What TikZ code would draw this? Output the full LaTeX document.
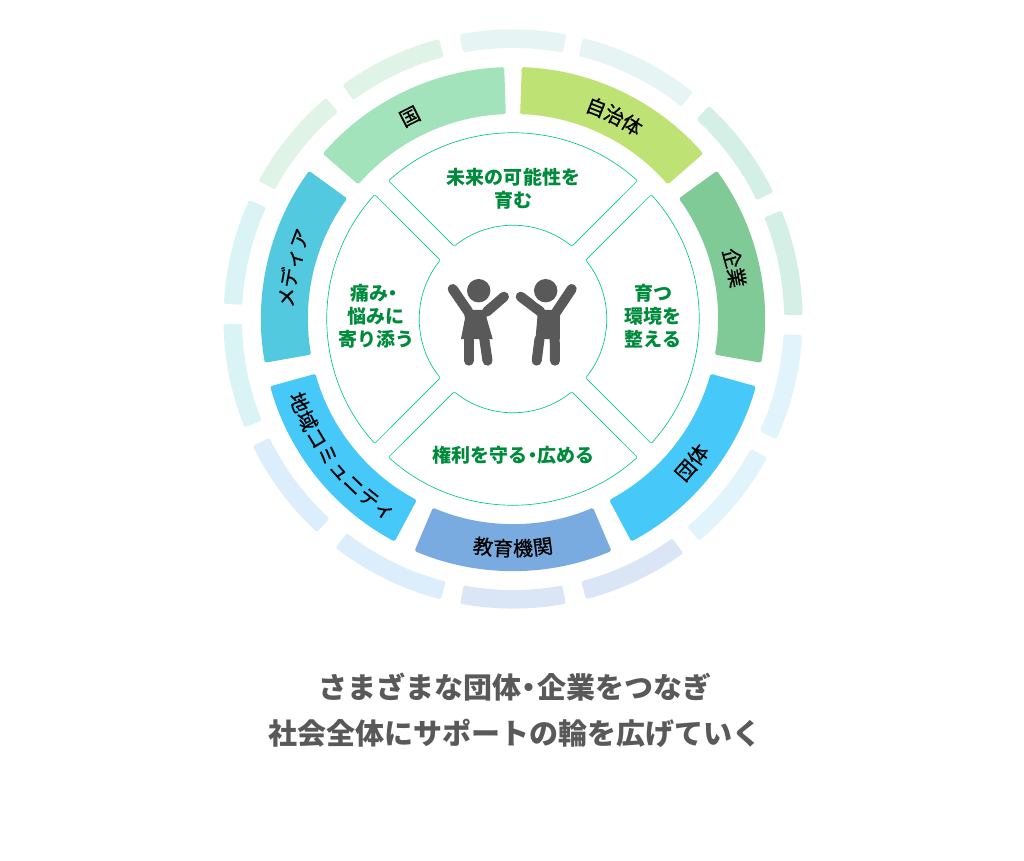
\documentclass[tikz,border=0pt]{standalone}
\usepackage{fontspec}
\usetikzlibrary{decorations.text}
\newfontfamily\jpfont{Noto Sans CJK JP}
\newfontfamily\ringfont[FakeBold=0.7]{Noto Sans CJK JP}
\newcommand{\dotkana}{\hspace{-0.22em}・\hspace{-0.22em}}
\definecolor{cellgreen}{HTML}{00C88A}
\definecolor{textgreen}{HTML}{008A3C}
\definecolor{icongray}{HTML}{595959}
\tikzset{
  cell/.style={draw=cellgreen, line width=0.5pt, rounded corners=1.2pt},
  celltext/.style={text=textgreen, align=center, font=\jpfont\bfseries\fontsize{14.25pt}{17.25pt}\selectfont},
  limb/.style={icongray, line width=7.5pt, line cap=round},
  ringlabel/.style={decorate, decoration={text along path, text align=center, raise=-5.25pt, text={|\ringfont\fontsize{15pt}{15pt}\selectfont|#1}}}
}
\begin{document}
\begin{tikzpicture}[x=0.75pt,y=0.75pt]
  \useasboundingbox (-513,-541) rectangle (511,319);

  % Anel externo
  \foreach \s/\e/\c in {100.6/79.4/E6F4F4, 76/51.6/E6F4F4, 47.4/26/D4EFE6, 22/0.8/D4EFE6,
      -3.2/-24.5/E1F4FB, -28.6/-50/E1F4FB, -54/-75.4/DAE6F6, -79.5/-100.5/DAE6F6,
      -104.4/-127.8/DCEEFB, -132.6/-154/DCEEFB, -158/-179/DAF4F6, -183/-204.3/DAF4F6,
      -208.5/-229.8/E0F3E7, -233.9/-255.2/E0F3E7} {
    \definecolor{segcolor}{HTML}{\c}
    \fill[segcolor, rounded corners=1.2pt] (\s:289.5) arc[start angle=\s, end angle=\e, radius=289.5]
      -- (\e:271) arc[start angle=\e, end angle=\s, radius=271] -- cycle;
  }

  % Anel do meio
  \foreach \s/\e/\c in {88/41/BFE275, 36/-10/7FCA96, -15.5/-62/46C8F8, -67/-113/7AABE0,
      -118/-164.5/46C8F8, -170/-216/53C9E0, -221/-268/A2E3BB} {
    \definecolor{segcolor}{HTML}{\c}
    \fill[segcolor, rounded corners=1.2pt] (\s:252) arc[start angle=\s, end angle=\e, radius=252]
      -- (\e:205) arc[start angle=\e, end angle=\s, radius=205] -- cycle;
  }

  % Textos do anel
  \path[ringlabel=国] (140.5:227) arc[start angle=140.5, end angle=93.5, radius=227];
  \path[ringlabel=自治体] (87:227) arc[start angle=87, end angle=40, radius=227];
  \path[ringlabel=企業] (36:227) arc[start angle=36, end angle=-10, radius=227];
  \path[ringlabel=メディア] (190:227) arc[start angle=190, end angle=144, radius=227];
  \path[ringlabel=団体] (-62:230) arc[start angle=-62, end angle=-15.5, radius=230];
  \path[ringlabel=教育機関] (-113:230) arc[start angle=-113, end angle=-67, radius=230];
  \path[ringlabel=地域コミュニティ] (-164.5:230) arc[start angle=-164.5, end angle=-118, radius=230];

  % Setores internos
  \foreach \r in {0,90,180,270} {
    \draw[cell, rotate=\r] (132:186) arc[start angle=132, end angle=48, radius=186]
      -- (51:93.5) arc[start angle=51, end angle=129, radius=93.5] -- cycle;
  }
  \node[celltext] (future) at (0.5,130.5) {未来の可能性を\\育む};
  \node[celltext] (worry) at (-136.5,3) {痛み\dotkana\\悩みに\\寄り添う};
  \node[celltext] (place) at (140,3) {育つ\\環境を\\整える};
  \node[celltext] (rights) at (0.5,-136) {権利を守る\dotkana 広める};

  % Menina
  \begin{scope}[xshift=0.375pt]
  \fill[icongray] (-50.2,9) -- (-26.8,9) -- (-26.8,0.7) -- (-20.8,-20) -- (-52.5,-20) -- (-48.5,0.7) -- cycle;
  \draw[limb] (-60.8,30) -- (-45.2,7.3);
  \draw[limb] (-9.5,22.3) -- (-26.8,7.3);
  \draw[limb] (-44.5,-18) -- (-44.5,-41.7);
  \draw[limb] (-29.5,-18) -- (-26,-41.7);
  \fill[white] (-34.8,28.3) circle (15);
  \fill[icongray] (-34.8,28.3) circle (11.7);

  % Menino
  \fill[icongray] (24.5,9) -- (46.5,9) -- (46.4,-20) -- (22,-20) -- cycle;
  \draw[limb] (7.2,22.3) -- (27,7.3);
  \draw[limb] (58.2,30) -- (43,7.3);
  \draw[limb] (26,-20) -- (23.2,-41.7);
  \draw[limb] (41.2,-20) -- (41.5,-41.7);
  \fill[white] (32.2,28.3) circle (15);
  \fill[icongray] (32.2,28.3) circle (11.7);
  \end{scope}

  % Legenda
  \node[text=icongray, align=center, font=\jpfont\bfseries\fontsize{21.75pt}{34.5pt}\selectfont] (caption) at (2,-391)
    {さまざまな団体\dotkana 企業をつなぎ\\社会全体にサポートの輪を広げていく};
\end{tikzpicture}
\end{document}
